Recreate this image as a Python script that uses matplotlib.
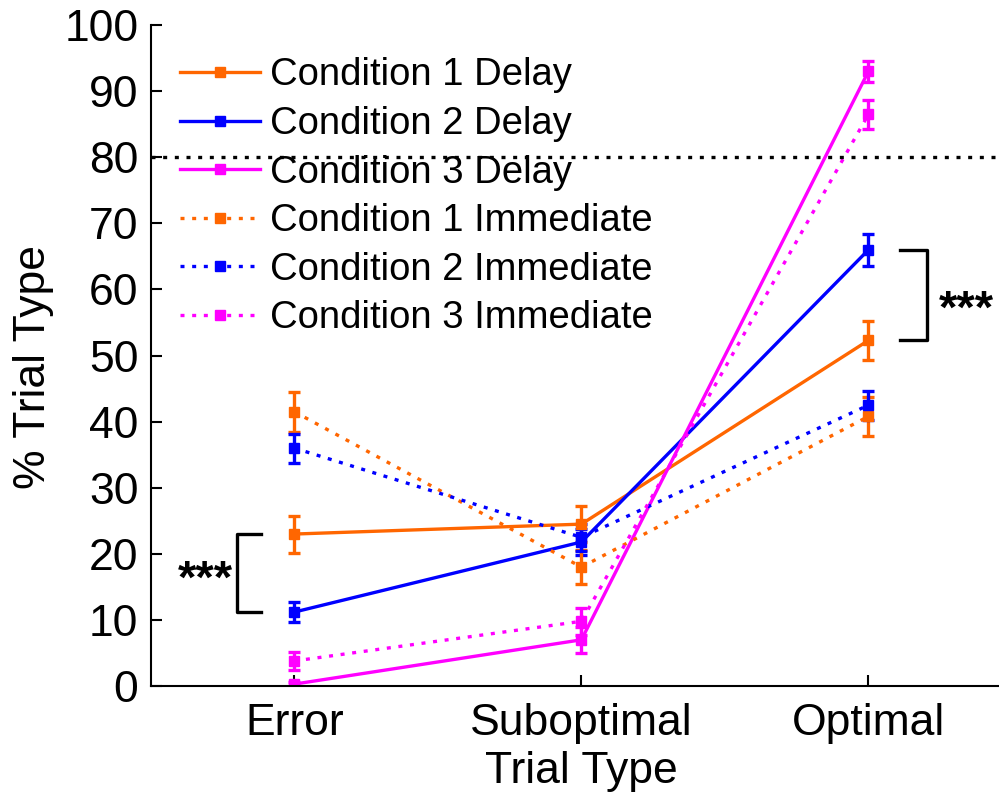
import matplotlib.pyplot as plt
from matplotlib.lines import Line2D
import numpy as np

plt.rcParams['font.family'] = ['Liberation Sans', 'DejaVu Sans']

trial_types = ['Error', 'Suboptimal', 'Optimal']
x = np.array([1, 2, 3])

# mean % of trials and s.e.m. for each condition / group
c1_delay = [23.0, 24.5, 52.3]
c1_delay_err = [2.8, 2.7, 3.0]
c2_delay = [11.2, 21.8, 66.0]
c2_delay_err = [1.5, 2.0, 2.4]
c3_delay = [0.3, 7.0, 93.0]
c3_delay_err = [0.3, 2.0, 1.6]
c1_imm = [41.5, 18.0, 40.8]
c1_imm_err = [3.0, 2.6, 3.0]
c2_imm = [36.0, 22.5, 42.5]
c2_imm_err = [2.2, 2.0, 2.2]
c3_imm = [3.8, 9.8, 86.5]
c3_imm_err = [1.3, 2.0, 2.2]

criterion = 80

orange = '#FF6600'
blue = '#0000FF'
magenta = '#FF00FF'
dots = (0, (1.2, 2.3))
lw = 2.4

fig = plt.figure(figsize=(9.99, 7.95), dpi=100)
ax = fig.add_axes([0.151, 0.137, 0.862, 0.8315])

series = [
    (c1_delay, c1_delay_err, orange, '-', 'Condition 1 Delay'),
    (c2_delay, c2_delay_err, blue, '-', 'Condition 2 Delay'),
    (c3_delay, c3_delay_err, magenta, '-', 'Condition 3 Delay'),
    (c1_imm, c1_imm_err, orange, dots, 'Condition 1 Immediate'),
    (c2_imm, c2_imm_err, blue, dots, 'Condition 2 Immediate'),
    (c3_imm, c3_imm_err, magenta, dots, 'Condition 3 Immediate'),
]

handles = []
for y, e, col, ls, lbl in series:
    ax.errorbar(x, y, yerr=e, color=col, linestyle=ls, linewidth=lw,
                marker='s', markersize=7.5, capsize=4.5, capthick=lw,
                elinewidth=lw, dash_capstyle='butt')
    handles.append(Line2D([], [], color=col, linestyle=ls, linewidth=lw,
                          marker='s', markersize=7.5, dash_capstyle='butt',
                          label=lbl))

ax.axhline(criterion, color='k', linestyle=dots, linewidth=lw,
           dash_capstyle='butt', zorder=3)

# significance brackets
ax.plot([0.885, 0.80, 0.80, 0.885], [c1_delay[0], c1_delay[0], c2_delay[0], c2_delay[0]],
        color='k', linewidth=lw, clip_on=False)
ax.text(0.69, (c1_delay[0] + c2_delay[0]) / 2 - 1.2, '***', fontsize=34,
        fontweight='bold', ha='center', va='center')
ax.plot([3.11, 3.205, 3.205, 3.11], [c2_delay[2], c2_delay[2], c1_delay[2], c1_delay[2]],
        color='k', linewidth=lw, clip_on=False)
ax.text(3.34, (c2_delay[2] + c1_delay[2]) / 2 - 2.3, '***', fontsize=34,
        fontweight='bold', ha='center', va='center')

ax.set_xlim(0.5, 3.5)
ax.set_ylim(0, 100)
ax.set_yticks(np.arange(0, 101, 10))
ax.set_xticks(x)
ax.set_xticklabels(trial_types)
ax.tick_params(direction='in', length=8, width=1.5, labelsize=32)
ax.tick_params(axis='x', pad=12)
ax.tick_params(axis='y', pad=9)
for s in ['top', 'right']:
    ax.spines[s].set_visible(False)
for s in ['left', 'bottom']:
    ax.spines[s].set_linewidth(1.5)

ax.set_xlabel('Trial Type', fontsize=32, labelpad=5)
ax.set_ylabel('% Trial Type', fontsize=32)
ax.yaxis.set_label_coords(-0.113, 0.483)

leg = ax.legend(handles=handles, loc='upper left', bbox_to_anchor=(0.034, 0.951),
                frameon=False, fontsize=27.5, handlelength=2.1,
                handletextpad=0.26, labelspacing=0.33, borderaxespad=0,
                borderpad=0)
leg.set_zorder(2)

fig.savefig('out.png', dpi=100)
